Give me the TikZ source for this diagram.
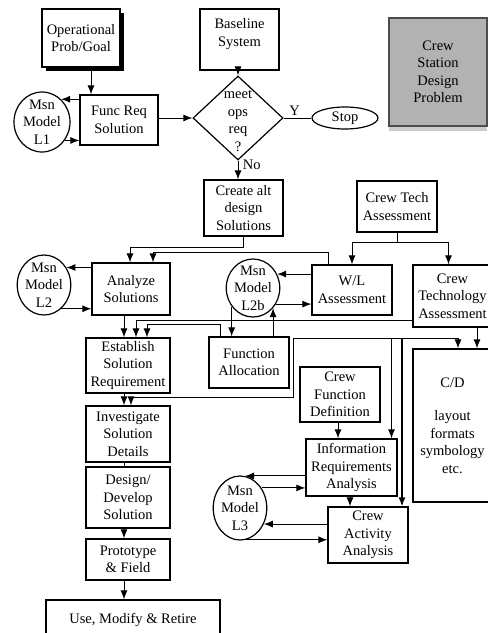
\documentclass[tikz,border=0pt]{standalone}
\usepackage{fontspec}
\setmainfont{Liberation Serif}
\usetikzlibrary{shapes.geometric,arrows.meta,shadows}

\begin{document}
\begin{tikzpicture}[x=1pt, y=-1pt, >={Latex[length=9pt,width=7pt]}, line width=1pt,
    every node/.style={font=\fontsize{14.5}{17.5}\selectfont},
    box/.style={draw, line width=1.2pt, align=center, inner sep=0pt},
    msn/.style={draw, ellipse, line width=1.2pt, align=center, inner xsep=0pt, inner ysep=-4pt}]
    \clip (0,0) rectangle (488,633);

    % Top row
    \node[box, fill=white, minimum width=78pt, minimum height=58pt,
        drop shadow={shadow xshift=4pt, shadow yshift=-4pt, fill=black, opacity=1}] (op) at (81,38) {Operational\\Prob/Goal};
    \node[box, minimum width=79pt, minimum height=61pt, text depth=14pt] (base) at (239.5,39.5) {Baseline\\System};
    \node[box, draw=black!70, fill=gray!60, minimum width=98pt, minimum height=108pt,
        drop shadow={shadow xshift=0pt, shadow yshift=-5pt, fill=gray!40, opacity=1}] (prob) at (438,72) {Crew\\Station\\Design\\Problem};

    % Requirement and decision
    \node[box, minimum width=78pt, minimum height=50pt] (func) at (119,120) {Func Req\\Solution};
    \node[msn, minimum width=56pt, minimum height=60pt] (L1) at (42,122) {Msn\\Model\\L1};
    \node[draw, diamond, line width=1.2pt, minimum width=90pt, minimum height=84pt, inner sep=0pt] (dec) at (238,118) {};
    \node[align=center] (dect) at (238,121) {meet\\ops\\req\\?};
    \node[draw, ellipse, line width=1.2pt, minimum width=66pt, minimum height=22pt, inner sep=0pt] (stop) at (345,118) {Stop};

    \draw[->] ([xshift=10pt]op.south) -- ([xshift=10pt]op.south |- func.north);
    \draw[->] (func.west |- L1.50) -- (L1.50);
    \draw[->] (L1.-39) -- (func.west |- L1.-39);
    \draw[->] (func.east |- dec.west) -- (dec.west);
    \draw[->] (dec.north |- base.south) -- (dec.north);
    \draw (dec.east) -- node[pos=0.4, above=-1pt] (ylab) {Y} (stop.west);

    % Alternatives
    \node[box, minimum width=79pt, minimum height=56pt] (alt) at (243.5,208) {Create alt\\design\\Solutions};
    \node[box, minimum width=80pt, minimum height=51pt] (techA) at (397,206.5) {Crew Tech\\Assessment};
    \node[box, minimum width=78pt, minimum height=52pt] (analyze) at (131,289) {Analyze\\Solutions};
    \node[msn, minimum width=52pt, minimum height=60pt] (L2) at (44,285) {Msn\\Model\\L2};
    \node[box, minimum width=80pt, minimum height=50pt] (wl) at (352,290) {W/L\\Assessment};
    \node[msn, minimum width=50pt, minimum height=58pt] (L2b) at (253,288) {Msn\\Model\\L2b};
    \node[box, minimum width=79pt, minimum height=62pt] (ctech) at (452.5,296) {Crew\\Technology\\Assessment};

    \draw[->] (dec.south) -- node[pos=0.2, right=1pt] (nolab) {No} (dec.south |- alt.north);
    \draw[->] (alt.south) -- ++(0,11) -| ([xshift=-1pt]analyze.north);
    \draw[->] ([xshift=-24pt]wl.north) -- ++(0,-12) -| ([xshift=22pt]analyze.north);
    \draw (techA.south) -- ++(0,10) coordinate (t1);
    \draw[->] (t1) -| (wl.north);
    \draw[->] (t1) -| ([xshift=-4pt]ctech.north);
    \draw[->] (analyze.west |- L2.38) -- (L2.38);
    \draw[->] (L2.-54) -- (analyze.west |- L2.-54);
    \draw[->] (wl.west |- L2b.30) -- (L2b.30);
    \draw[->] (L2b.-35) -- (wl.west |- L2b.-35);

    % Solution path
    \node[box, minimum width=84pt, minimum height=55pt] (establish) at (128,365.5) {Establish\\Solution\\Requirement};
    \node[box, minimum width=80pt, minimum height=51pt] (falloc) at (249,362.5) {Function\\Allocation};
    \node[box, minimum width=84pt, minimum height=56pt] (invest) at (128,434) {Investigate\\Solution\\Details};
    \node[box, minimum width=84pt, minimum height=61pt] (design) at (128,497.5) {Design/\\Develop\\Solution};
    \node[box, minimum width=84pt, minimum height=41pt] (proto) at (128,559.5) {Prototype\\\& Field};
    \node[box, minimum width=174pt, minimum height=40pt] (use) at (133,620) {Use, Modify \& Retire};

    \draw[->] ([xshift=-7pt]analyze.south) -- ([xshift=-7pt]analyze.south |- establish.north);
    \draw[->] ([yshift=-24pt]ctech.west) -| ([xshift=8pt]establish.north);
    \draw[->] ([xshift=-29pt]falloc.north) -- ++(0,-12) -| ([xshift=19pt]establish.north);
    \draw[->] (L2b.-139) -- (L2b.-139 |- falloc.north);
    \draw[->] (L2b.-45 |- falloc.north) -- (L2b.-45);
    \draw[->] ([xshift=-4pt]establish.south) -- ([xshift=-4pt]invest.north);
    \draw ([xshift=-4pt]invest.south) -- ([xshift=-4pt]design.north);
    \draw[->] ([xshift=-4pt]design.south) -- ([xshift=-4pt]proto.north);
    \draw[->] ([xshift=-4pt]proto.south) -- ([xshift=-4pt]proto.south |- use.north);

    % Crew station analysis
    \node[box, minimum width=80pt, minimum height=55pt] (cfd) at (340,394.5) {Crew\\Function\\Definition};
    \node[box, minimum width=91pt, minimum height=57pt] (ira) at (351.5,467.5) {Information\\Requirements\\Analysis};
    \node[box, minimum width=80pt, minimum height=56pt] (caa) at (368,535) {Crew\\Activity\\Analysis};
    \node[msn, minimum width=50pt, minimum height=64pt] (L3) at (240,508) {Msn\\Model\\L3};
    \node[box, minimum width=79pt, minimum height=153pt] (cd) at (452.5,425.5) {C/D\\[16pt]layout\\formats\\symbology\\etc.};

    \coordinate (bus) at (293,338);
    \draw[<->] ([xshift=3pt]invest.north) -- ++(0,-8) -| (bus) -| ([xshift=5.5pt]cd.north);
    \draw[->] ([xshift=40pt]ira.north |- bus) -- ([xshift=40pt]ira.north);
    \draw[->, line width=1.5pt] ([xshift=34pt]caa.north |- bus) -- ([xshift=34pt]caa.north);
    \draw[->] ([xshift=24.5pt]ctech.south) -- ([xshift=24.5pt]cd.north);
    \draw[->] ([xshift=-2pt]cfd.south) -- ([xshift=-2pt]cfd.south |- ira.north);
    \draw[->] ([xshift=-1.5pt]ira.south) -- ([xshift=-1.5pt]ira.south |- caa.north);
    \draw[->] (ira.west |- L3.81) -- (L3.81);
    \draw[->] (L3.43) -- (ira.west |- L3.43);
    \draw[->] (caa.west |- L3.-34) -- (L3.-34);
    \draw[->] (L3.-79) -- (caa.west |- L3.-79);
\end{tikzpicture}
\end{document}
